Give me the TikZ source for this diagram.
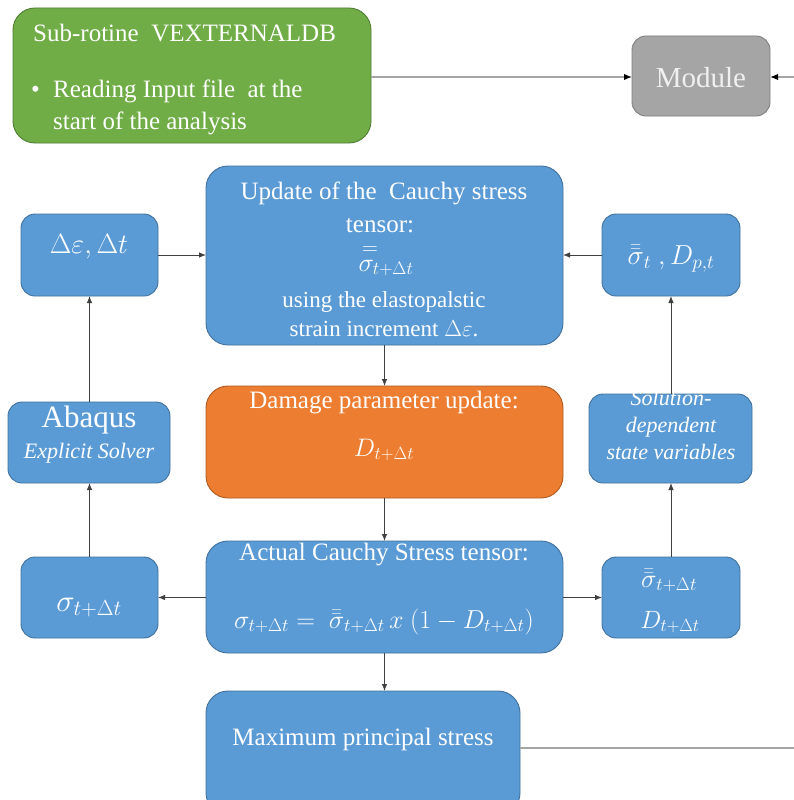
\RequirePackage{fix-cm}
\documentclass[tikz,border=0pt]{standalone}
\usepackage{fontspec}
\setmainfont{Liberation Serif}
\usetikzlibrary{arrows.meta}
\definecolor{cblue}{HTML}{5B9BD5}
\definecolor{cblueline}{HTML}{41719C}
\definecolor{cgreen}{HTML}{70AD47}
\definecolor{cgreenline}{HTML}{507E32}
\definecolor{corange}{HTML}{ED7D31}
\definecolor{corangeline}{HTML}{AE5A21}
\definecolor{cgray}{HTML}{A5A5A5}
\definecolor{cgrayline}{HTML}{7F7F7F}
\definecolor{cline}{HTML}{404040}
\newcommand{\fs}[1]{\fontsize{#1}{#1}\selectfont}
\tikzset{
  boxbase/.style={draw, line width=0.9pt, inner sep=0pt, outer sep=0pt},
  bluebox/.style={boxbase, fill=cblue, draw=cblueline},
  greenbox/.style={boxbase, fill=cgreen, draw=cgreenline},
  orangebox/.style={boxbase, fill=corange, draw=corangeline},
  graybox/.style={boxbase, fill=cgray, draw=cgrayline},
  small/.style={rounded corners=14pt},
  large/.style={rounded corners=22pt},
  txt/.style={text=white, inner sep=0pt, anchor=base},
  txtl/.style={text=white, inner sep=0pt, anchor=base west},
  conn/.style={draw=cline, line width=0.8pt, -{Latex[length=7pt,width=5.5pt]}},
  gconn/.style={draw=cgray, line width=1.4pt, -{Latex[length=8pt,width=6.5pt,color=black]}},
  gline/.style={draw=cgray, line width=1.4pt},
}
\begin{document}
\begin{tikzpicture}[x=1pt,y=-1pt]
\useasboundingbox (0,0) rectangle (794,800);
\clip (0,0) rectangle (794,800);

% boxes
\node[greenbox, large, minimum width=358pt, minimum height=135pt] (green) at (192,75.5) {};
\node[graybox, small, minimum width=138pt, minimum height=80pt] (module) at (701,76) {};
\node[bluebox, large, minimum width=357pt, minimum height=179pt] (update) at (384.5,255.5) {};
\node[bluebox, small, minimum width=137pt, minimum height=82pt] (de) at (89.5,255) {};
\node[bluebox, small, minimum width=138pt, minimum height=82pt] (st) at (671,255) {};
\node[bluebox, small, minimum width=162pt, minimum height=81pt] (abaqus) at (89,442.5) {};
\node[orangebox, large, minimum width=357pt, minimum height=112pt] (damage) at (384.5,442) {};
\node[bluebox, small, minimum width=163pt, minimum height=89pt] (sol) at (670.5,438.5) {};
\node[bluebox, large, minimum width=357pt, minimum height=112pt] (actual) at (384.5,597) {};
\node[bluebox, small, minimum width=137pt, minimum height=81pt] (sig) at (89.5,597.5) {};
\node[bluebox, small, minimum width=138pt, minimum height=81pt] (rb) at (671,597.5) {};
\node[bluebox, large, minimum width=314pt, minimum height=124pt] (max) at (363,753) {};

% texts
\node[txtl] (g1) at (33,42) {\fs{25}Sub-rotine\ \ VEXTERNALDB};
\node[txtl] (gb) at (31,97) {\fs{25}•};
\node[txtl] (g2) at (53,97) {\fs{25}Reading Input file\ \ at the};
\node[txtl] (g3) at (53,129) {\fs{25}start of the analysis};
\node[txt, text=white!94!black] (mt) at (701,87) {\fs{29}Module};

\node[txt] (u1) at (384,199) {\fs{25}Update of the\ \ Cauchy stress};
\node[txt] (u2) at (380,232) {\fs{25}tensor:};
\node[txt] (u3) at (370,254) {\fs{22}$=$};
\node[txt] (u4) at (386,271) {\fs{26}$\sigma_{t+\Delta t}$};
\node[txt] (u5) at (384,307) {\fs{23}using the elastopalstic};
\node[txt] (u6) at (384,336) {\fs{23}strain increment $\Delta\varepsilon$.};

\node[txt] (det) at (89,253) {\fs{28}$\Delta\varepsilon,\Delta t$};
\node[txt] (stt) at (671,264) {\fs{27.5}$\bar{\bar{\sigma}}_t\ , D_{p,t}$};

\node[txt] (a1) at (89,427) {\fs{31}Abaqus};
\node[txt] (a2) at (89,458) {\fs{22}\itshape Explicit Solver};

\node[txt] (s1) at (671,405) {\fs{22}\itshape Solution-};
\node[txt] (s2) at (671,432) {\fs{22}\itshape dependent};
\node[txt] (s3) at (671,459) {\fs{22}\itshape state variables};

\node[txt] (d1) at (384,408) {\fs{25}Damage parameter update:};
\node[txt] (d2) at (384,456) {\fs{25.3}$D_{t+\Delta t}$};

\node[txt] (c1) at (384,560) {\fs{25}Actual Cauchy Stress tensor:};
\node[txt] (c2) at (384,628) {\fs{26}$\sigma_{t+\Delta t} =\ \bar{\bar{\sigma}}_{t+\Delta t}\, x\ (1 - D_{t+\Delta t})$};

\node[txt] (sg) at (89,611) {\fs{31}$\sigma_{t+\Delta t}$};
\node[txt] (r1t) at (669,587) {\fs{26}$\bar{\bar{\sigma}}_{t+\Delta t}$};
\node[txt] (r2t) at (670,628) {\fs{25}$D_{t+\Delta t}$};

\node[txt] (mx) at (363,745) {\fs{25}Maximum principal stress};

% connectors
\coordinate (edge1) at (794,77);
\coordinate (edge2) at (794,748);
\draw[gconn] (green.east |- edge1) -- (module.west |- edge1);
\draw[gconn] (edge1) -- (module.east |- edge1);
\draw[gline] (max.east |- edge2) -- (edge2);

\draw[conn] (de.east) -- (de.east -| update.west);
\draw[conn] (st.west) -- (st.west -| update.east);
\draw[conn] (update.south) -- (damage.north);
\draw[conn] (damage.south) -- (actual.north);
\draw[conn] (actual.south) -- (actual.south |- max.north);
\draw[conn] (actual.west |- sig.east) -- (sig.east);
\draw[conn] (actual.east |- rb.west) -- (rb.west);
\draw[conn] (abaqus.north -| de.south) -- (de.south);
\draw[conn] (sig.north) -- (sig.north |- abaqus.south);
\draw[conn] (sol.north -| st.south) -- (st.south);
\draw[conn] (rb.north) -- (rb.north |- sol.south);
\end{tikzpicture}
\end{document}
